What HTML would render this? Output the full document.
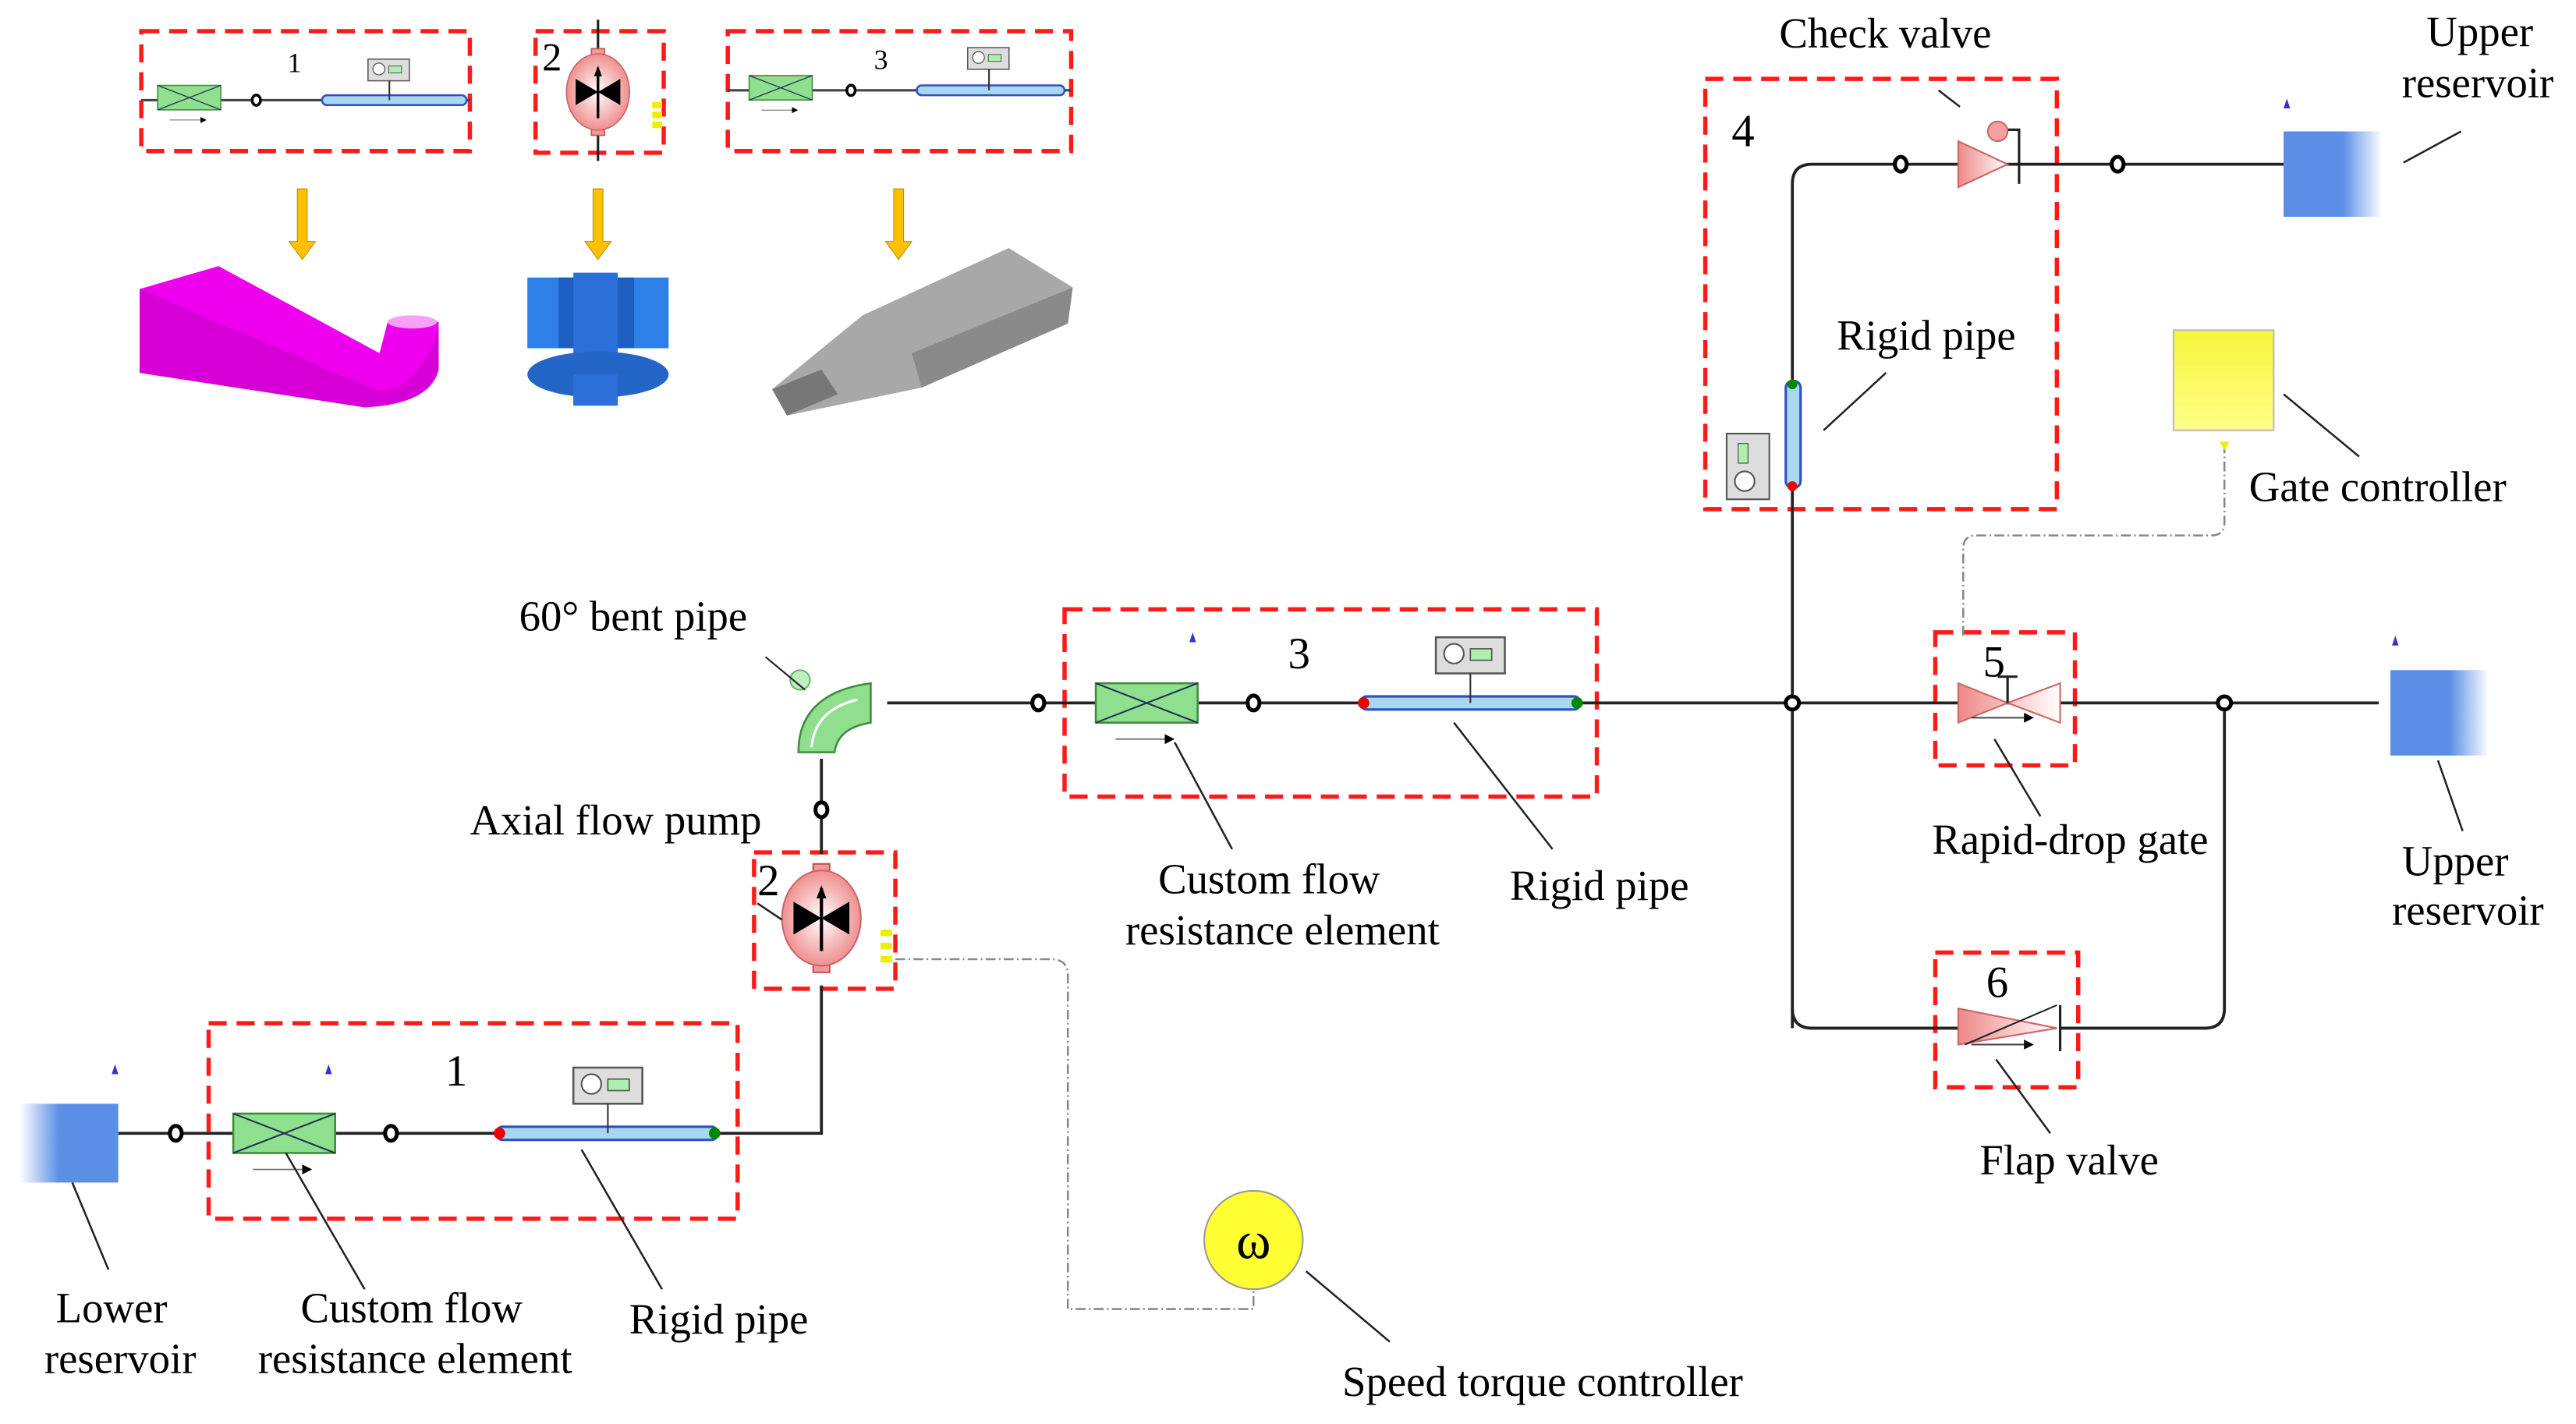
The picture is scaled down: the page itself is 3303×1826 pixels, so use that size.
<!DOCTYPE html>
<html><head><meta charset="utf-8"><style>html,body{margin:0;padding:0;background:#fff}svg{display:block}</style></head>
<body>
<svg width="3303" height="1826" viewBox="0 0 1568 867" preserveAspectRatio="none" xmlns="http://www.w3.org/2000/svg" font-family="Liberation Serif, serif">
<defs>
<linearGradient id="gb" x1="0" x2="1"><stop offset="0" stop-color="#5b8fe6"/><stop offset="0.6" stop-color="#5b8fe6"/><stop offset="1" stop-color="#fff"/></linearGradient>
<linearGradient id="gbl" x1="1" x2="0"><stop offset="0" stop-color="#5b8fe6"/><stop offset="0.6" stop-color="#5b8fe6"/><stop offset="1" stop-color="#fff"/></linearGradient>
<radialGradient id="gp"><stop offset="0" stop-color="#fff"/><stop offset="1" stop-color="#ef8f8f"/></radialGradient>
<linearGradient id="gv" x1="0" x2="1"><stop offset="0" stop-color="#ee8888"/><stop offset="1" stop-color="#fff"/></linearGradient>
<linearGradient id="gy" x1="0" y1="0" x2="0" y2="1"><stop offset="0" stop-color="#f5f53a"/><stop offset="1" stop-color="#ffff88"/></linearGradient>
<g id="blk"><rect x="0" y="0" width="62" height="24" fill="#8fdf8f" stroke="#3c8c3c" stroke-width="1.2"/><path d="M0 0L62 24M62 0L0 24" stroke="#235" stroke-width="1"/><path d="M12 34H42" stroke="#666" stroke-width="0.8"/><path d="M42 31L48 34L42 37Z" fill="#000"/></g>
<g id="nd"><ellipse cx="0" cy="0" rx="3.6" ry="4.5" fill="#fff" stroke="#000" stroke-width="2.4"/></g>
<g id="gau"><rect x="0" y="0" width="42" height="22" fill="#ddd" stroke="#555" stroke-width="1.2"/><circle cx="11" cy="10" r="6" fill="#fff" stroke="#555"/><rect x="21" y="7" width="13" height="7" fill="#aef0ae" stroke="#555" stroke-width="0.8"/></g>
<g id="pmp"><rect x="-5" y="-33" width="10" height="66" fill="#ef9a9a" stroke="#b55"/><ellipse cx="0" cy="0" rx="24" ry="29" fill="url(#gp)" stroke="#c66"/><path d="M-17 -10L0 0L-17 10ZM17 -10L0 0L17 10Z" fill="#000"/><path d="M0 20V-18" stroke="#000" stroke-width="2"/><path d="M-3 -12L0 -20L3 -12Z" fill="#000"/></g>
</defs>
<g fill="none" stroke="#ff1a1a" stroke-width="2.6" stroke-dasharray="11,6">
<rect x="86" y="19" width="200" height="73"/><rect x="326" y="19" width="78" height="74"/><rect x="443" y="19" width="209" height="73"/>
<rect x="127" y="623" width="322" height="119"/><rect x="459" y="519" width="86" height="83"/><rect x="648" y="371" width="324" height="114"/>
<rect x="1038" y="48" width="214" height="262"/><rect x="1178" y="385" width="85" height="81"/><rect x="1178" y="580" width="87" height="82"/>
</g>
<!-- top mini diagrams -->
<path d="M86 61H286" stroke="#444" stroke-width="1.5"/>
<use href="#blk" transform="translate(96,52) scale(0.62)"/>
<use href="#nd" transform="translate(156,61) scale(0.7)"/>
<rect x="196" y="58" width="88" height="6" rx="3" fill="#a8d8f0" stroke="#3050c0" stroke-width="1.2"/>
<use href="#gau" transform="translate(224,36) scale(0.6)"/><path d="M237 49V61" stroke="#333"/>
<text x="175" y="44" font-size="17">1</text>
<path d="M364 12V98" stroke="#222" stroke-width="1.5"/>
<use href="#pmp" transform="translate(364,56) scale(0.8)"/>
<text x="330" y="43" font-size="24">2</text>
<rect x="397" y="62" width="6" height="4" fill="#ee0"/><rect x="397" y="68" width="6" height="4" fill="#ee0"/><rect x="397" y="74" width="6" height="4" fill="#ee0"/>
<path d="M443 55H652" stroke="#444" stroke-width="1.5"/>
<use href="#blk" transform="translate(456,46) scale(0.62)"/>
<use href="#nd" transform="translate(518,55) scale(0.7)"/>
<rect x="558" y="52" width="90" height="6" rx="3" fill="#a8d8f0" stroke="#3050c0" stroke-width="1.2"/>
<use href="#gau" transform="translate(589,29) scale(0.6)"/><path d="M602 42V55" stroke="#333"/>
<text x="532" y="42" font-size="17">3</text>
<!-- yellow arrows -->
<g fill="#ffc000" stroke="#b89000" stroke-width="0.5">
<path d="M181 115h6v32h5l-8 11l-8-11h5z"/><path d="M361 115h6v32h5l-8 11l-8-11h5z"/><path d="M544 115h6v32h5l-8 11l-8-11h5z"/>
</g>
<!-- 3D shapes -->
<path d="M85 176L133 162L231 215L236 196L267 196L267 225Q262 246 222 248L85 227Z" fill="#ee00ee"/>
<path d="M85 176L85 227L222 248Q262 246 267 225L267 200Q255 238 230 238L85 176Z" fill="#cc00cc" opacity="0.7"/>
<ellipse cx="251" cy="196" rx="15" ry="4" fill="#f8a0f8"/>
<path d="M321 169H407V212H321Z" fill="#2e7fe8"/>
<path d="M340 169H352V212H340ZM372 169H386V212H372Z" fill="#1d5fc0"/>
<path d="M349 166H376V246H349Z" fill="#2a70d8"/>
<ellipse cx="364" cy="228" rx="43" ry="14" fill="#2466c8"/>
<path d="M349 228H376V247H349Z" fill="#2a70d8"/>
<path d="M614 151L653 175L650 197L561 236L479 253L470 237L525 192Z" fill="#a8a8a8"/>
<path d="M653 175L650 197L561 236L555 215Z" fill="#8a8a8a"/>
<path d="M470 237L479 253L510 240L500 225Z" fill="#777"/>
<!-- main lines -->
<g stroke="#222" stroke-width="1.8" fill="none">
<path d="M72 690H500V600"/><path d="M500 520V462"/><path d="M540 428H1448"/>
<path d="M1091 626V112Q1091 100 1103 100H1390"/>
<path d="M1091 614Q1091 626 1103 626H1342Q1354 626 1354 614V428"/>
</g>
<!-- dash-dot control lines -->
<g stroke="#888" stroke-width="1.2" fill="none" stroke-dasharray="6,2,1,2">
<path d="M545 584H640Q650 584 650 594V797H763V786"/>
<path d="M1354 270V318Q1354 326 1346 326H1203Q1195 326 1195 334V388"/>
</g>
<!-- lower reservoir -->
<rect x="12" y="672" width="60" height="48" fill="url(#gbl)"/><path d="M70 648l-2 6h4z" fill="#33c"/>
<use href="#nd" transform="translate(107,690)"/>
<use href="#blk" transform="translate(142,678)"/>
<use href="#nd" transform="translate(238,690)"/>
<rect x="302" y="686" width="135" height="8" rx="4" fill="#a8d8f0" stroke="#3050c0" stroke-width="1.5"/>
<circle cx="304" cy="690" r="3.5" fill="#e00"/><circle cx="435" cy="690" r="3.5" fill="#080"/>
<use href="#gau" transform="translate(349,650)"/><path d="M370 672V690" stroke="#333"/>
<text x="271" y="661" font-size="27">1</text><path d="M200 648l-2 6h4z" fill="#33c"/>
<!-- pump -->
<use href="#pmp" transform="translate(500,559)"/>
<text x="461" y="545" font-size="27">2</text>
<rect x="536" y="566" width="7" height="4" fill="#ee0"/><rect x="536" y="574" width="7" height="4" fill="#ee0"/><rect x="536" y="582" width="7" height="4" fill="#ee0"/>
<use href="#nd" transform="translate(500,493)"/>
<!-- bent pipe -->
<path d="M486 458Q486 422 530 416V440Q510 443 508 458Z" fill="#8fdf8f" stroke="#3c8c3c" stroke-width="1.2"/>
<path d="M494 455Q496 432 522 426" stroke="#fff" stroke-width="1.5" fill="none"/>
<circle cx="487" cy="414" r="6" fill="#bfeebf" stroke="#6b6"/>
<path d="M466 400L490 420" stroke="#222"/>
<use href="#nd" transform="translate(632,428)"/>
<use href="#blk" transform="translate(667,416)"/>
<use href="#nd" transform="translate(763,428)"/>
<rect x="828" y="424" width="134" height="8" rx="4" fill="#a8d8f0" stroke="#3050c0" stroke-width="1.5"/>
<circle cx="830" cy="428" r="3.5" fill="#e00"/><circle cx="960" cy="428" r="3.5" fill="#080"/>
<use href="#gau" transform="translate(874,388)"/><path d="M895 410V428" stroke="#333"/>
<text x="784" y="407" font-size="27">3</text><path d="M726 385l-2 6h4z" fill="#33c"/>
<circle cx="1091" cy="428" r="4" fill="#fff" stroke="#000" stroke-width="2.4"/>
<circle cx="1354" cy="428" r="4" fill="#fff" stroke="#000" stroke-width="2.4"/>
<!-- branch 4 -->
<use href="#nd" transform="translate(1157,100)"/><use href="#nd" transform="translate(1289,100)"/>
<path d="M1192 86L1222 100L1192 114Z" fill="url(#gv)" stroke="#c66"/>
<path d="M1229 84V112M1222 79H1229V84" stroke="#222" stroke-width="1.5" fill="none"/>
<circle cx="1216" cy="80" r="6" fill="#f4a0a0" stroke="#c66"/>
<rect x="1087" y="232" width="9" height="65" rx="4" fill="#a8d8f0" stroke="#3050c0" stroke-width="1.5"/>
<circle cx="1091" cy="234" r="3" fill="#080"/><circle cx="1091" cy="296" r="3" fill="#e00"/>
<rect x="1051" y="264" width="26" height="40" fill="#ddd" stroke="#555"/><rect x="1058" y="270" width="6" height="12" fill="#aef0ae" stroke="#555" stroke-width="0.6"/><circle cx="1062" cy="293" r="6" fill="#fff" stroke="#555"/>
<text x="1054" y="89" font-size="28">4</text>
<rect x="1390" y="80" width="60" height="52" fill="url(#gb)"/><path d="M1392 60l-2 6h4z" fill="#33c"/>
<!-- gate 5 -->
<path d="M1192 416L1222 428L1192 440ZM1254 416L1222 428L1254 440Z" fill="url(#gv)" stroke="#c66"/>
<path d="M1222 428V412M1216 412H1228" stroke="#222" stroke-width="1.5"/>
<path d="M1200 437H1232" stroke="#444"/><path d="M1232 434L1238 437L1232 440Z"/>
<text x="1207" y="412" font-size="27">5</text>
<rect x="1455" y="408" width="60" height="52" fill="url(#gb)"/><path d="M1458 387l-2 6h4z" fill="#33c"/>
<!-- flap 6 -->
<rect x="1192" y="612" width="62" height="26" fill="#fff"/>
<path d="M1192 614L1252 626L1192 636Z" fill="url(#gv)" stroke="#c66"/>
<path d="M1254 612V640" stroke="#222" stroke-width="1.5"/>
<path d="M1196 636L1252 612" stroke="#222"/>
<path d="M1200 636H1232" stroke="#444"/><path d="M1232 633L1238 636L1232 639Z"/>
<text x="1209" y="607" font-size="27">6</text>
<!-- controllers -->
<rect x="1323" y="201" width="61" height="61" fill="url(#gy)" stroke="#bbb"/>
<path d="M1351 269h6l-3 5z" fill="#ee0"/>
<circle cx="763" cy="755" r="30" fill="#ffff33" stroke="#999"/>
<text x="763" y="766" font-size="32" text-anchor="middle">ω</text>
<!-- leader lines -->
<g stroke="#222" stroke-width="1.2">
<path d="M1193 65L1180 55M1463 99L1498 80M1110 262L1148 227M1390 240L1436 278M1214 450L1242 497M1484 463L1499 506M1215 645L1248 690M715 452L750 517M885 440L945 517M174 702L222 785M354 700L403 785M44 720L66 773M795 774L846 817M461 550L476 560"/>
</g>
<!-- labels -->
<g font-size="26" fill="#000">
<text x="1083" y="29">Check valve</text>
<text x="1477" y="28">Upper</text><text x="1462" y="59">reservoir</text>
<text x="1118" y="213">Rigid pipe</text>
<text x="1369" y="305">Gate controller</text>
<text x="316" y="384">60°  bent pipe</text>
<text x="286" y="508">Axial flow pump</text>
<text x="705" y="544">Custom flow</text><text x="685" y="575">resistance element</text>
<text x="919" y="548">Rigid pipe</text>
<text x="1176" y="520">Rapid-drop gate</text>
<text x="1462" y="533">Upper</text><text x="1456" y="563">reservoir</text>
<text x="1205" y="715">Flap valve</text>
<text x="34" y="805">Lower</text><text x="27" y="836">reservoir</text>
<text x="183" y="805">Custom flow</text><text x="157" y="836">resistance element</text>
<text x="383" y="812">Rigid pipe</text>
<text x="817" y="850">Speed torque controller</text>
</g>
</svg>
</body></html>
